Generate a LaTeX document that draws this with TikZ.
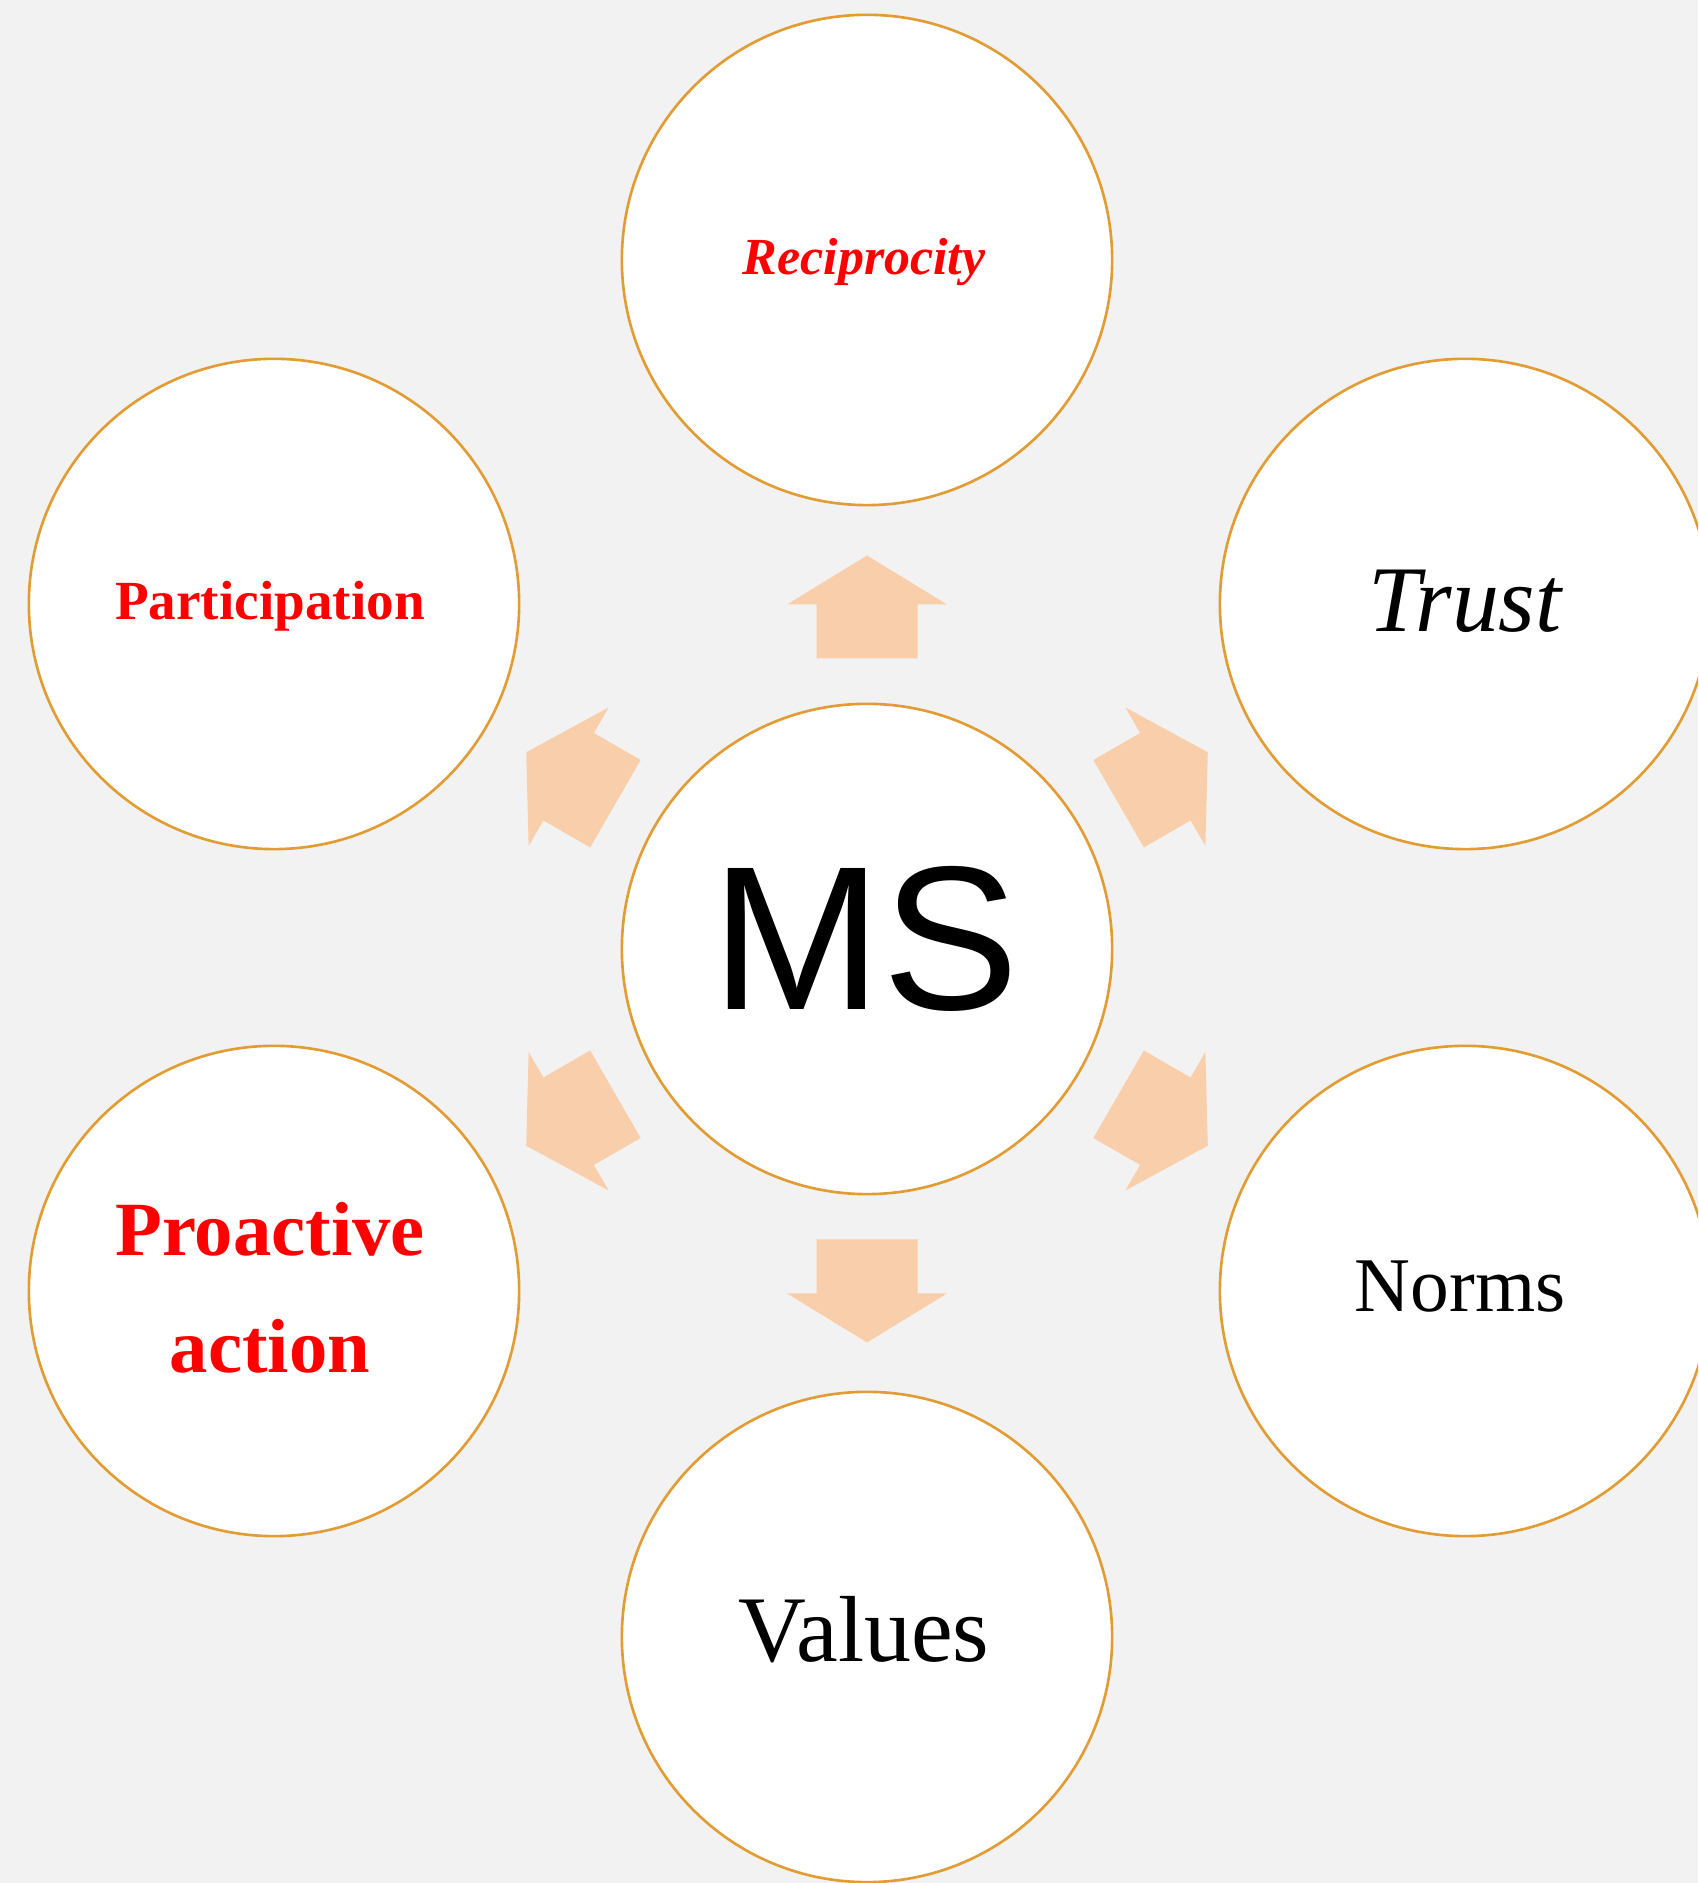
\documentclass[tikz,border=0pt]{standalone}
\usepackage{fontspec}
\setmainfont{Liberation Serif}
\newfontfamily\arialfont{Liberation Sans}
\definecolor{bgcol}{RGB}{242,242,242}
\definecolor{ringcol}{RGB}{226,156,52}
\definecolor{arrowcol}{RGB}{249,207,171}
\definecolor{redtext}{RGB}{255,0,0}
\tikzset{
  ring/.style={circle, draw=ringcol, fill=white, line width=0.75pt, minimum size=4.9cm, inner sep=0pt},
  lbl/.style={anchor=base, inner sep=0pt, outer sep=0pt},
  blockarrow/.style={fill=arrowcol, draw=none}
}
\begin{document}
\begin{tikzpicture}[x=0.01cm, y=0.01cm]
\fill[bgcol] (0,0) rectangle (1698,1883);
\useasboundingbox (0,0) rectangle (1698,1883);
\clip (0,0) rectangle (1698,1883);
% circles
\node[ring] (ms) at (867,934) {};
\node[ring] (recip) at (867,1623) {};
\node[ring] (values) at (867,246) {};
\node[ring] (partic) at (274,1279) {};
\node[ring] (trust) at (1465,1279) {};
\node[ring] (proact) at (274,592) {};
\node[ring] (norms) at (1465,592) {};
% block arrows around MS
\foreach \ang in {30,90,150,210,270,330}{
  \begin{scope}[shift={(ms.center)}, rotate=\ang]
    \fill[blockarrow] (290.5,-50.5) -- (344.5,-50.5) -- (344.5,-80) -- (393.5,0)
      -- (344.5,80) -- (344.5,50.5) -- (290.5,50.5) -- cycle;
  \end{scope}
}
% texts
\node[lbl, font=\arialfont\fontsize{58.3}{70}\selectfont] (mst) at (865,873) {MS};
\node[lbl, text=redtext, font=\fontsize{14.8}{18}\selectfont\bfseries\itshape] (recipt) at (864,1608) {Reciprocity};
\node[lbl, text=redtext, font=\fontsize{15.7}{19}\selectfont\bfseries] (partict) at (270,1263) {Participation};
\node[lbl, font=\fontsize{26.7}{32}\selectfont\itshape] (trustt) at (1465,1251) {Trust};
\node[lbl, font=\fontsize{22}{27}\selectfont] (normst) at (1460,571) {Norms};
\node[lbl, font=\fontsize{26.7}{32}\selectfont] (valuest) at (864,221) {Values};
\node[lbl, text=redtext, font=\fontsize{21.8}{26}\selectfont\bfseries] (proactt) at (270,627) {Proactive};
\node[lbl, text=redtext, font=\fontsize{21.8}{26}\selectfont\bfseries] (actiont) at (270,510) {action};
\end{tikzpicture}
\end{document}
